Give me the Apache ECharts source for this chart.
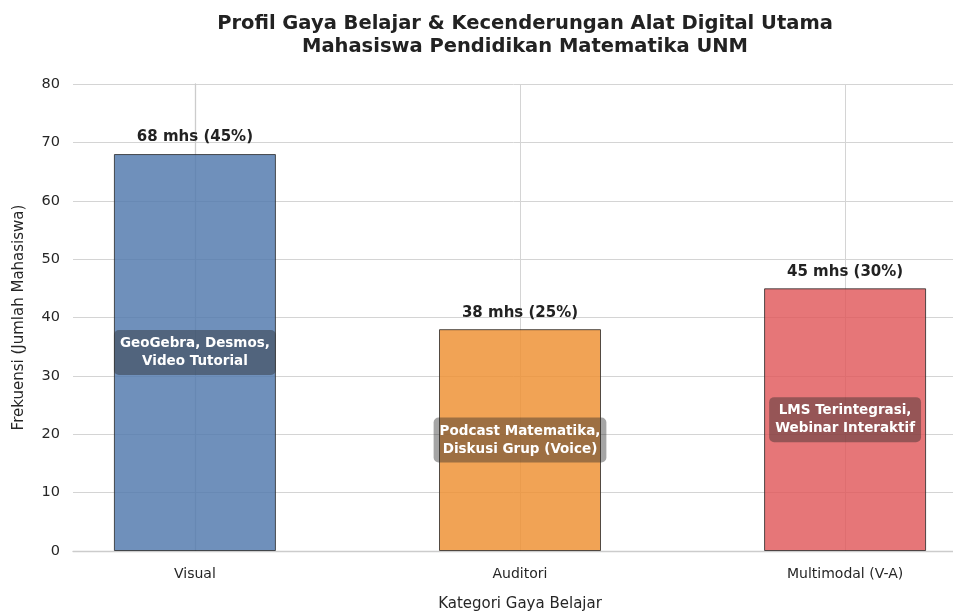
<!DOCTYPE html>
<html>
<head>
<meta charset="utf-8">
<script src="https://cdn.jsdelivr.net/npm/echarts@6/dist/echarts.min.js"></script>
<style>
  html, body { margin: 0; padding: 0; background: #fff; }
  #chart { width: 953px; height: 611px; }
</style>
</head>
<body>
<div id="chart"></div>
<script>
// data
const categories = ['Visual', 'Auditori', 'Multimodal (V-A)']
const counts = [68, 38, 45]
const shares = [45, 25, 30]
const tools = [
  'GeoGebra, Desmos,\nVideo Tutorial',
  'Podcast Matematika,\nDiskusi Grup (Voice)',
  'LMS Terintegrasi,\nWebinar Interaktif'
]
const yTicks = [0, 10, 20, 30, 40, 50, 60, 70, 80]
const barColors = [
  'rgba(84, 123, 174, 0.84)',
  'rgba(238, 145, 52, 0.84)',
  'rgba(224, 88, 90, 0.82)'
]

const font = '"DejaVu Sans", sans-serif'
const chart = echarts.init(document.getElementById('chart'))

chart.setOption({
  backgroundColor: '#fff',
  animation: false,
  title: {
    text: 'Profil Gaya Belajar & Kecenderungan Alat Digital Utama\nMahasiswa Pendidikan Matematika UNM',
    left: 520,
    top: 7,
    textAlign: 'center',
    textStyle: {
      fontFamily: font,
      fontSize: 19.5,
      fontWeight: 'bold',
      color: '#222',
      lineHeight: 23
    }
  },
  grid: {
    left: 73,
    right: -14,
    top: 84,
    bottom: 60,
    outerBoundsMode: 'none'
  },
  xAxis: {
    type: 'value',
    min: -0.375,
    max: 2.375,
    name: 'Kategori Gaya Belajar',
    nameLocation: 'middle',
    nameGap: 46,
    nameTextStyle: { fontFamily: font, fontSize: 15, color: '#262626' },
    axisLine: { show: true, lineStyle: { color: '#cccccc', width: 1.3 } },
    axisTick: { show: false, customValues: [0, 1, 2] },
    axisLabel: {
      customValues: [0, 1, 2],
      formatter: v => categories[Math.round(v)],
      fontFamily: font,
      fontSize: 14,
      color: '#262626',
      margin: 16
    },
    splitLine: { show: true, lineStyle: { color: '#d4d4d4', width: 1 } }
  },
  yAxis: {
    type: 'value',
    min: yTicks[0],
    max: yTicks[yTicks.length - 1],
    interval: 10,
    name: 'Frekuensi (Jumlah Mahasiswa)',
    nameLocation: 'middle',
    nameGap: 46,
    nameTextStyle: { fontFamily: font, fontSize: 15, color: '#262626' },
    axisLine: { show: true, lineStyle: { color: '#cccccc', width: 1.3 } },
    axisTick: { show: false },
    axisLabel: { fontFamily: font, fontSize: 14.5, color: '#262626', margin: 13 },
    splitLine: { show: true, lineStyle: { color: '#d4d4d4', width: 1 } }
  },
  series: [
    {
      type: 'bar',
      barWidth: 162,
      data: counts.map((v, i) => ({
        value: [i, v],
        itemStyle: { color: barColors[i] }
      })),
      itemStyle: { borderColor: 'rgba(40,40,40,0.8)', borderWidth: 1 },
      label: {
        show: true,
        position: 'inside',
        formatter: p => tools[p.dataIndex],
        fontFamily: font,
        fontSize: 13.5,
        fontWeight: 'bold',
        color: '#fff',
        lineHeight: 18,
        backgroundColor: 'rgba(40,40,40,0.42)',
        borderRadius: 5,
        padding: [5, 6, 4, 6]
      }
    },
    {
      type: 'bar',
      barWidth: 162,
      barGap: '-100%',
      silent: true,
      data: counts.map((v, i) => [i, v]),
      itemStyle: { color: 'rgba(0,0,0,0)' },
      label: {
        show: true,
        position: 'top',
        distance: 9,
        formatter: p => counts[p.dataIndex] + ' mhs (' + shares[p.dataIndex] + '%)',
        fontFamily: font,
        fontSize: 15,
        fontWeight: 'bold',
        color: '#222'
      }
    }
  ]
})
</script>
</body>
</html>
